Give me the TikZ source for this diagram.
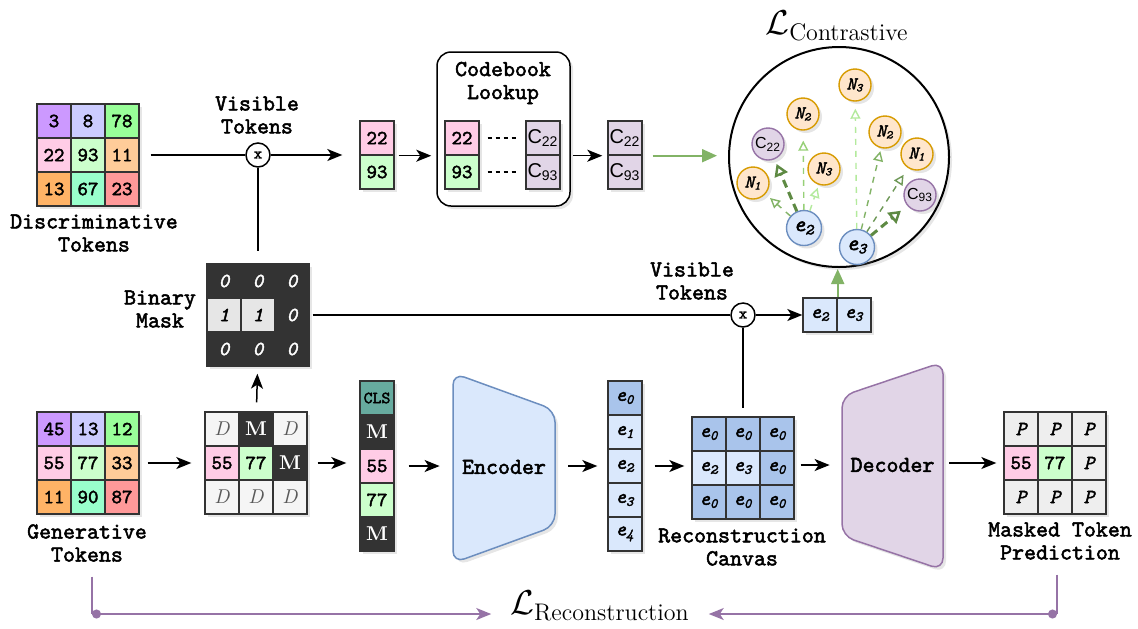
\documentclass[tikz,border=0pt]{standalone}
\usepackage{fontspec}
\setsansfont{Liberation Sans}
\setmonofont{lmmono10-regular.otf}[
  BoldFont=lmmono10-regular.otf, BoldFeatures={FakeBold=2.2},
  ItalicFont=lmmono10-italic.otf,
  BoldItalicFont=lmmono10-italic.otf, BoldItalicFeatures={FakeBold=2.2}]
\usepackage{amsmath}
\usetikzlibrary{arrows.meta, positioning, shadows, calc}
\definecolor{DG}{RGB}{51,51,51}
\definecolor{TP}{HTML}{CC99FF}
\definecolor{TL}{HTML}{CCCCFF}
\definecolor{TG}{HTML}{99FF99}
\definecolor{TK}{HTML}{FFCCE6}
\definecolor{TM}{HTML}{CCFFCC}
\definecolor{TO}{HTML}{FFCC99}
\definecolor{TR}{HTML}{FFB366}
\definecolor{TA}{HTML}{99FFCC}
\definecolor{TS}{HTML}{FF9999}
\definecolor{MK}{HTML}{333333}
\definecolor{MD}{HTML}{F5F5F5}
\definecolor{MO}{HTML}{E6E6E6}
\definecolor{PG}{HTML}{EEEEEE}
\definecolor{CL}{HTML}{67AB9F}
\definecolor{EB}{HTML}{A9C4EB}
\definecolor{EL}{HTML}{DAE8FC}
\definecolor{ES}{HTML}{6C8EBF}
\definecolor{PF}{HTML}{E1D5E7}
\definecolor{PS}{HTML}{9673A6}
\definecolor{OF}{HTML}{FFE6CC}
\definecolor{OS}{HTML}{D79B00}
\definecolor{GM}{HTML}{82B366}
\definecolor{GK}{HTML}{5E8A43}
\definecolor{GL}{HTML}{97D077}
\definecolor{GP}{HTML}{B3EA9C}

\begin{document}
\begin{tikzpicture}[
  x=0.5pt, y=-0.5pt,
  shd/.style={drop shadow={shadow xshift=1.5pt, shadow yshift=-1.5pt, opacity=0.2}},
  cell/.style={draw=DG, fill=#1, minimum size=17pt, inner sep=0pt, line width=0.7pt,
               font=\fontsize{10}{11}\selectfont\ttfamily\bfseries, shd},
  dk/.style={cell=MK, text=white},
  dd/.style={cell=MD, text=black!65},
  lbl/.style={font=\fontsize{11.4}{11.5}\selectfont\ttfamily\bfseries, align=center},
  mul/.style={draw, circle, fill=white, minimum size=12pt, inner sep=0pt, line width=0.75pt,
              font=\fontsize{8}{8}\selectfont\ttfamily\bfseries},
  cbox/.style={draw, fill=white, rounded corners=7pt, line width=0.75pt,
               minimum width=66.5pt, minimum height=77pt, shd},
  nd/.style={circle, draw=OS, fill=OF, minimum size=16pt, inner sep=0pt, line width=0.7pt,
             font=\fontsize{9}{9}\selectfont\ttfamily\bfseries\itshape, shd},
  cd/.style={nd, draw=PS, fill=PF, font=\fontsize{8}{8}\selectfont\sffamily},
  ed/.style={nd, draw=ES, fill=EL, minimum size=17.5pt,
             font=\fontsize{11}{11}\selectfont\ttfamily\bfseries\itshape},
  ln/.style={line width=0.75pt, draw=black},
  arr/.style={ln, -{Stealth[length=7.5pt,width=6pt,inset=2pt]}},
  garr/.style={line width=1pt, draw=GM, -{Triangle[length=7.5pt,width=6.5pt]}},
  ca/.style={dashed, line width=0.7pt, -{Triangle[open, length=5pt, width=5pt]}},
  cak/.style={draw=GK, line width=1.5pt, dash pattern=on 4pt off 2.5pt,
              -{Triangle[open, length=6pt, width=7pt, line width=1.2pt]}},
  blk/.style={lbl, minimum height=30pt, inner sep=0pt},
  pln/.style={line width=0.75pt, draw=PS},
  parr/.style={pln, {Circle[length=4.5pt]}-{Stealth[length=7.5pt,width=6pt,inset=2pt]}}
]
\useasboundingbox (0,0) rectangle (1138,628);

% discriminative tokens
\node[cell=TP] (d11) at (54,121) {3};
\node[cell=TL] (d12) at (88,121) {8};
\node[cell=TG] (d13) at (122,121) {78};
\node[cell=TK] (d21) at (54,155) {22};
\node[cell=TM] (d22) at (88,155) {93};
\node[cell=TO] (d23) at (122,155) {11};
\node[cell=TR] (d31) at (54,189) {13};
\node[cell=TA] (d32) at (88,189) {67};
\node[cell=TS] (d33) at (122,189) {23};
\node[lbl] (dlbl) at (94,233) {Discriminative\\Tokens};

\node[mul] (m1) at (258,155) {x};
\node[lbl] (vlbl1) at (257,115) {Visible\\Tokens};

\node[cell=TK] (v1) at (377,138) {22};
\node[cell=TM] (v2) at (377,172) {93};

% codebook
\node[cbox] (cb) at (503.5,129) {};
\node[lbl] (cblbl) at (503,83) {Codebook\\Lookup};
\node[cell=TK] (cb1) at (462,138) {22};
\node[cell=TM] (cb2) at (462,172) {93};
\node[cell=PF] (cc1) at (543,138) {\sffamily\mdseries C\textsubscript{22}};
\node[cell=PF] (cc2) at (543,172) {\sffamily\mdseries C\textsubscript{93}};
\draw[ln, dash pattern=on 2pt off 2pt, shorten <=4pt, shorten >=4pt] (cb1) -- (cc1);
\draw[ln, dash pattern=on 2pt off 2pt, shorten <=4pt, shorten >=4pt] (cb2) -- (cc2);

\node[cell=PF] (o1) at (625,138) {\sffamily\mdseries C\textsubscript{22}};
\node[cell=PF] (o2) at (625,172) {\sffamily\mdseries C\textsubscript{93}};

\draw[ln, shorten <=5.5pt] (d23.east) -- (m1);
\draw[arr, shorten >=8.5pt] (m1) -- (m1 -| v1.west);
\draw[arr, shorten <=2pt, shorten >=2.5pt] (v1.south east) -- (v1.south east -| cb.west);
\draw[arr, shorten <=1pt, shorten >=2.5pt] (cb.east |- o1.south west) -- (o1.south west);

% contrastive space
\node[draw, circle, fill=white, minimum size=110pt, line width=1pt, shd] (cont) at (839,157) {};
\node[font=\LARGE] (clbl) at (837,26) {$\mathcal{L}_{\text{Contrastive}}$};
\draw[garr, shorten <=5pt, shorten >=5.5pt] (o1.south east) -- (o1.south east -| cont.west);

\node[nd] (na3) at (855,85)  {N\textsubscript{3}};
\node[nd] (nb2) at (803,114) {N\textsubscript{2}};
\node[cd] (c22) at (768,144) {C\textsubscript{22}};
\node[nd] (nb3) at (824,169) {N\textsubscript{3}};
\node[nd] (nb1) at (753,183) {N\textsubscript{1}};
\node[ed] (ep2) at (804,228) {e\textsubscript{2}};
\node[nd] (na2) at (885,132) {N\textsubscript{2}};
\node[nd] (na1) at (917,154) {N\textsubscript{1}};
\node[cd] (c93) at (920,195) {C\textsubscript{93}};
\node[ed] (ep3) at (857,247) {e\textsubscript{3}};

\draw[ca, draw=GM, shorten >=3pt] (ep2) -- (nb1);
\draw[ca, draw=GL, shorten >=5pt] (ep2) -- (nb2);
\draw[ca, draw=GP, shorten >=1.5pt] (ep2) -- (nb3);
\draw[cak, shorten >=2.5pt] (ep2) -- (c22);
\draw[ca, draw=GP, shorten >=3.5pt] (ep3) -- (na3);
\draw[ca, draw=GM, shorten >=1.5pt] (ep3) -- (na2);
\draw[ca, draw=GM!85!black, shorten >=4pt] (ep3) -- (na1);
\draw[cak, shorten >=4pt] (ep3) -- (c93);

% binary mask
\node[dk] (k11) at (224,281) {\itshape 0};
\node[dk] (k12) at (258,281) {\itshape 0};
\node[dk] (k13) at (292,281) {\itshape 0};
\node[cell=MO] (k21) at (224,315) {\itshape 1};
\node[cell=MO] (k22) at (258,315) {\itshape 1};
\node[dk] (k23) at (292,315) {\itshape 0};
\node[dk] (k31) at (224,349) {\itshape 0};
\node[dk] (k32) at (258,349) {\itshape 0};
\node[dk] (k33) at (292,349) {\itshape 0};
\node[lbl] (klbl) at (160,309) {Binary\\Mask};

\draw[ln, shorten >=6pt] (m1) -- (k12);

\node[mul] (m2) at (743,315) {x};
\node[lbl] (vlbl2) at (692,281) {Visible\\Tokens};
\node[cell=EL] (f1) at (820,315) {\itshape e\textsubscript{2}};
\node[cell=EL] (f2) at (854,315) {\itshape e\textsubscript{3}};

\draw[ln, shorten <=1.5pt] (k23) -- (m2);
\draw[arr] (m2) -- (f1);
\draw[garr, shorten >=0.5pt] (f1.north east) -- (f1.north east |- cont.south);

% generative tokens
\node[cell=TP] (g11) at (54,429) {45};
\node[cell=TL] (g12) at (88,429) {13};
\node[cell=TG] (g13) at (122,429) {12};
\node[cell=TK] (g21) at (54,463) {55};
\node[cell=TM] (g22) at (88,463) {77};
\node[cell=TO] (g23) at (122,463) {33};
\node[cell=TR] (g31) at (54,497) {11};
\node[cell=TA] (g32) at (88,497) {90};
\node[cell=TS] (g33) at (122,497) {87};
\node[lbl] (glbl) at (87,543) {Generative\\Tokens};

% masked input
\node[dd] (x11) at (222,429) {\rmfamily\mdseries\itshape D};
\node[dk] (x12) at (256,429) {\rmfamily M};
\node[dd] (x13) at (290,429) {\rmfamily\mdseries\itshape D};
\node[cell=TK] (x21) at (222,463) {55};
\node[cell=TM] (x22) at (256,463) {77};
\node[dk] (x23) at (290,463) {\rmfamily M};
\node[dd] (x31) at (222,497) {\rmfamily\mdseries\itshape D};
\node[dd] (x32) at (256,497) {\rmfamily\mdseries\itshape D};
\node[dd] (x33) at (290,497) {\rmfamily\mdseries\itshape D};

\draw[arr, shorten <=4.5pt, shorten >=3.5pt] (x12) -- (k32);
\draw[arr, shorten <=4pt, shorten >=6.5pt] (g23) -- (x21);

% token sequence
\node[cell=CL, font=\fontsize{8.5}{8.5}\selectfont\ttfamily\bfseries] (s1) at (377,398) {CLS};
\node[dk] (s2) at (377,432) {\rmfamily M};
\node[cell=TK] (s3) at (377,466) {55};
\node[cell=TM] (s4) at (377,500) {77};
\node[dk] (s5) at (377,534) {\rmfamily M};

\draw[arr, shorten <=5pt, shorten >=6.5pt] (x23.east) -- (x23.east -| s3.west);

% encoder
\draw[draw=ES, fill=EL, line width=0.75pt, rounded corners=6pt, shd]
  (453,373) -- (555,410) -- (555,526) -- (453,563) -- cycle;
\node[blk, minimum width=51pt] (enc) at (504,467) {Encoder};
\draw[arr, shorten <=7pt, shorten >=6.5pt] (s3.east) -- (s3.east -| enc.west);

% embeddings
\node[cell=EB] (q0) at (625,398) {\itshape e\textsubscript{0}};
\node[cell=EL] (q1) at (625,432) {\itshape e\textsubscript{1}};
\node[cell=EL] (q2) at (625,466) {\itshape e\textsubscript{2}};
\node[cell=EL] (q3) at (625,500) {\itshape e\textsubscript{3}};
\node[cell=EL] (q4) at (625,534) {\itshape e\textsubscript{4}};
\draw[arr, shorten <=6.5pt, shorten >=5pt] (q2.west -| enc.east) -- (q2.west);

% reconstruction canvas
\node[cell=EB] (r11) at (709,434) {\itshape e\textsubscript{0}};
\node[cell=EB] (r12) at (743,434) {\itshape e\textsubscript{0}};
\node[cell=EB] (r13) at (777,434) {\itshape e\textsubscript{0}};
\node[cell=EL] (r21) at (709,468) {\itshape e\textsubscript{2}};
\node[cell=EL] (r22) at (743,468) {\itshape e\textsubscript{3}};
\node[cell=EB] (r23) at (777,468) {\itshape e\textsubscript{0}};
\node[cell=EB] (r31) at (709,502) {\itshape e\textsubscript{0}};
\node[cell=EB] (r32) at (743,502) {\itshape e\textsubscript{0}};
\node[cell=EB] (r33) at (777,502) {\itshape e\textsubscript{0}};
\node[lbl] (rlbl) at (742,547) {Reconstruction\\Canvas};

\draw[arr, shorten <=6pt, shorten >=3.5pt] (q2.east) -- (q2.east -| r21.west);
\draw[ln, shorten >=4pt] (m2) -- (r12);

% decoder
\draw[draw=PS, fill=PF, line width=0.75pt, rounded corners=6pt, shd]
  (842,396) -- (943,362) -- (943,570) -- (842,536) -- cycle;
\node[blk, minimum width=50.5pt] (dec) at (892.5,465) {Decoder};
\draw[arr, shorten <=3pt, shorten >=6pt] (r23.east |- dec.west) -- (dec.west);

% prediction
\node[cell=PG] (p11) at (1021,429) {\itshape P};
\node[cell=PG] (p12) at (1055,429) {\itshape P};
\node[cell=PG] (p13) at (1089,429) {\itshape P};
\node[cell=TK] (p21) at (1021,463) {55};
\node[cell=TM] (p22) at (1055,463) {77};
\node[cell=PG] (p23) at (1089,463) {\itshape P};
\node[cell=PG] (p31) at (1021,497) {\itshape P};
\node[cell=PG] (p32) at (1055,497) {\itshape P};
\node[cell=PG] (p33) at (1089,497) {\itshape P};
\node[lbl] (plbl) at (1060,541) {Masked Token\\Prediction};
\draw[arr, shorten <=3pt, shorten >=3.5pt] (dec.east |- p21.west) -- (p21.west);

% reconstruction loss
\node[font=\LARGE] (rec) at (600,606) {$\mathcal{L}_{\text{Reconstruction}}$};
\coordinate (bl) at (92,614);
\coordinate (br) at (1057,614);
\draw[pln, shorten <=4pt] (glbl.south -| bl) -- (bl);
\draw[pln, shorten <=4pt] (plbl.south -| br) -- (br);
\draw[parr, shorten >=6pt] (bl) -- (bl -| rec.west);
\draw[parr, shorten >=6pt] (br) -- (br -| rec.east);
\end{tikzpicture}
\end{document}
